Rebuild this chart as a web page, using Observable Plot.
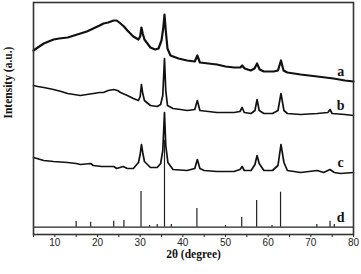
<!DOCTYPE html>
<html><head><meta charset="utf-8">
<script src="https://cdn.jsdelivr.net/npm/d3@7"></script>
<script src="https://cdn.jsdelivr.net/npm/@observablehq/plot@0.6"></script>
<style>body{margin:0;background:#fff}</style>
</head><body><div id="chart"></div>
<script>
// 2θ (degree) and intensity (a.u.)
const traceA = [[5,184],[6,187],[7.4,191],[9.7,195],[11,196],[13,197],[14.5,199],[16,201],[17.5,203],[19,206],[20.5,209],[21.4,211],[22.5,212],[23.8,214],[24.5,214],[25.4,211],[26.2,208],[27,204],[28.4,198],[29.6,195],[30.0,198],[30.3,207],[30.6,201],[31,195],[32.4,187],[33.5,185],[34.3,186],[35,194],[35.4,206],[35.7,220],[36.0,204],[36.4,186],[37.1,179],[39,176],[41,174],[42.8,173],[43.4,179],[44,172],[46,171],[48,170],[50,168],[52,167],[53.5,167],[53.9,169],[54.5,166],[55.9,164],[56.8,166],[57.4,171],[58,165],[59,163],[61.3,163],[62.3,164],[63,174],[63.6,164],[64.5,162],[67.6,160],[71.5,158],[75.3,156],[78,154],[80,153]];
const traceB = [[5,149],[6,148],[7.4,147],[9.7,145],[11.5,143],[13,141],[14.5,140],[16,139],[17.5,140],[19,141],[20.5,142],[21.4,142],[22.5,144],[23.8,145],[24.7,144],[25.4,142],[27,139],[28.4,136],[29.6,134],[30.0,138],[30.3,150],[30.6,141],[31,134],[32.4,129],[34,128],[34.8,130],[35.3,139],[35.7,176],[36.0,144],[36.4,129],[37.7,126],[39.5,125],[41,124],[42.8,125],[43.4,134],[44,124],[46,123],[48,122],[52,122],[53.4,123],[53.9,127],[54.4,122],[56,121],[56.9,124],[57.4,135],[57.9,124],[59,121],[61,121],[62.3,124],[63,141],[63.7,124],[64.5,121],[67.6,120],[71.5,121],[74,122],[74.5,125],[75,121],[78,120],[80,119]];
const traceC = [[5,77],[7.4,74],[9.7,73],[13,72],[15,71],[16,70],[18.4,71],[19,69],[21,68],[23.8,68],[24.5,66],[26,68],[27,66],[28.4,66],[29.6,72],[30.0,80],[30.3,90],[30.6,82],[31,73],[32.4,67],[34,67],[34.8,71],[35.3,84],[35.7,122],[36.0,89],[36.5,72],[37.7,65],[41,64],[42.8,66],[43.4,75],[44,66],[45,64],[48,63],[52,63],[53.4,65],[53.9,68],[54.4,64],[56,64],[56.9,70],[57.4,79],[57.9,71],[59,64],[61,64],[62.3,69],[63,90],[63.7,72],[64.5,64],[67.6,62],[71.5,64],[73,62],[74.5,65],[75.5,62],[77,61],[80,62]];
// reference pattern (d): stick positions and heights above its baseline
const stickPos = [15.0,18.4,23.8,26.2,30.2,32.2,34.0,35.7,37.3,43.3,50.0,53.8,57.3,60.9,62.9,71.4,74.5,75.5];
const stickH   = [5.7,5,6,6.7,35.7,1.7,2.7,87,2.7,18.7,1.7,9.7,26.7,1.7,35,2.7,6,2.7];
const baseD = 7.3;
const names = ["a","b","c","d"];
const xTicks = d3.range(5, 81, 5);

const sticks = stickPos.map((x,i)=>({x, y1: baseD, y2: baseD + stickH[i]}));
const ends = [traceA.at(-1)[1], traceB.at(-1)[1], traceC.at(-1)[1], baseD];
const labels = names.map((n,i)=>({n, x: 77, y: ends[i] + 10}));

const serif = "'Liberation Serif','Times New Roman',serif";
const chart = Plot.plot({
  width: 361, height: 274,
  marginTop: 2, marginBottom: 40, marginLeft: 33, marginRight: 8,
  style: {fontFamily: "'Liberation Sans',Arial,sans-serif", fontSize: "10px", color: "#222", background: "#fff"},
  x: {domain: [5, 80], ticks: xTicks, tickFormat: d => d % 10 === 0 ? d : "", tickSize: 3, tickPadding: 1, label: null},
  y: {domain: [0, 232], axis: null},
  marks: [
    Plot.line(traceA, {x: d=>d[0], y: d=>d[1], stroke: "#111", strokeWidth: 2.2}),
    Plot.line(traceB, {x: d=>d[0], y: d=>d[1], stroke: "#111", strokeWidth: 1.7}),
    Plot.line(traceC, {x: d=>d[0], y: d=>d[1], stroke: "#111", strokeWidth: 1.7}),
    Plot.ruleX(sticks, {x: "x", y1: "y1", y2: "y2", stroke: "#222", strokeWidth: 1.2}),
    Plot.ruleY([baseD], {stroke: "#222", strokeWidth: 1.2}),
    Plot.text(labels, {x: "x", y: "y", text: "n", fontFamily: serif, fontWeight: "bold", fontSize: 14, fill: "#111"}),
    Plot.frame({stroke: "#333", strokeWidth: 1.6}),
    Plot.text(["2θ (degree)"], {frameAnchor: "bottom", dy: 23, fontFamily: serif, fontWeight: "bold", fontSize: 11.5, fill: "#111"}),
    Plot.text(["Intensity (a.u.)"], {frameAnchor: "left", dx: -25, rotate: -90, fontFamily: serif, fontWeight: "bold", fontSize: 11.5, fill: "#111"})
  ]
});
document.getElementById("chart").append(chart);
</script>
</body></html>
